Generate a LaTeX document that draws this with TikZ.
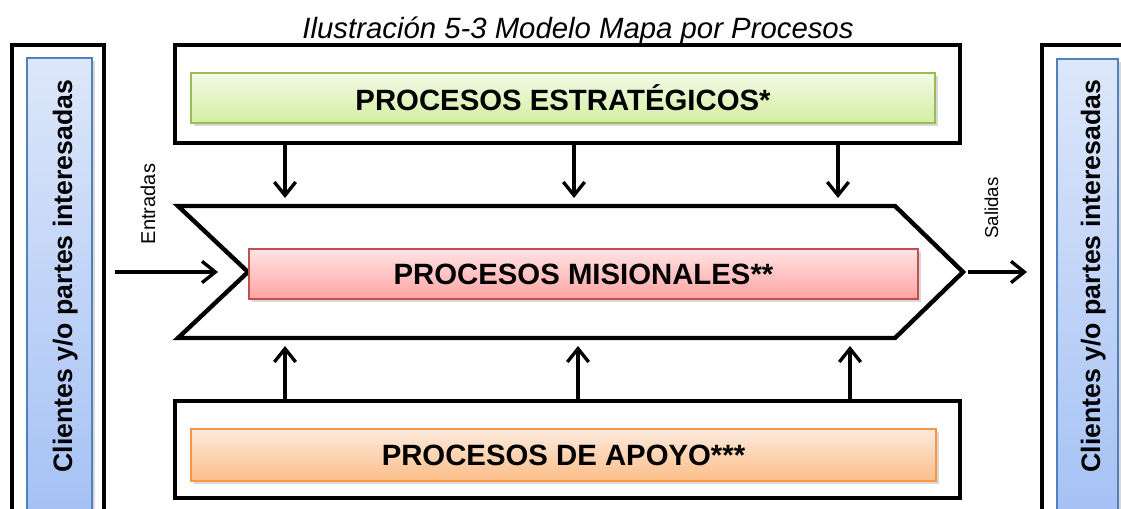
\documentclass[tikz,border=0pt]{standalone}
\usepackage{fontspec}
\setmainfont{Liberation Sans}
\usetikzlibrary{arrows.meta,shadows,positioning,calc}

\definecolor{verdeSup}{HTML}{F3FBE6}
\definecolor{verdeInf}{HTML}{D3EEA2}
\definecolor{verdeBorde}{HTML}{9BBB59}
\definecolor{rosaSup}{HTML}{FFE3E3}
\definecolor{rosaInf}{HTML}{FFA3A3}
\definecolor{rosaBorde}{HTML}{C0504D}
\definecolor{naranjaSup}{HTML}{FDEBDD}
\definecolor{naranjaInf}{HTML}{FBBD88}
\definecolor{naranjaBorde}{HTML}{F79646}
\definecolor{azulSup}{HTML}{DDE7FA}
\definecolor{azulInf}{HTML}{A3C0F4}
\definecolor{azulBorde}{HTML}{4F81BD}

\tikzset{
  marco/.style={draw=black, line width=3.3pt, fill=white, inner sep=0pt},
  proceso/.style={draw, line width=0.9pt, inner sep=0pt,
    drop shadow={shadow xshift=2pt, shadow yshift=-2.5pt, opacity=0.3},
    font=\fontsize{22}{26}\selectfont\bfseries},
  cliente/.style={draw=azulBorde, line width=0.9pt, top color=azulSup, bottom color=azulInf,
    drop shadow={shadow xshift=2pt, shadow yshift=-2.5pt, opacity=0.3}},
  flecha/.style={line width=2.5pt, -{Straight Barb[length=10pt,width=16pt]}},
  etiqueta/.style={rotate=90, anchor=base},
}

\begin{document}
\begin{tikzpicture}[x=0.75pt,y=-0.75pt]
  \clip (0,0) rectangle (1121,508);
  % titulo
  \node[anchor=base, font=\fontsize{22}{26}\selectfont\itshape] (titulo) at (578,38) {Ilustración 5-3 Modelo Mapa por Procesos};
  % clientes
  \node[marco, minimum width=69pt, minimum height=363.75pt] (cliIzqM) at (58,287.5) {};
  \node[cliente, minimum width=48.75pt, minimum height=354pt] (cliIzq) at (59.5,294) {};
  \node[rotate=90, anchor=base, font=\fontsize{20}{24}\selectfont\bfseries] (cliIzqT) at (72,276) {Clientes y/o partes interesadas};
  \node[marco, minimum width=73.5pt, minimum height=363.75pt] (cliDerM) at (1091,287.5) {};
  \node[cliente, minimum width=45.75pt, minimum height=354pt] (cliDer) at (1087.5,295) {};
  \node[rotate=90, anchor=base, font=\fontsize{20}{24}\selectfont\bfseries] (cliDerT) at (1100,276) {Clientes y/o partes interesadas};
  % estrategicos
  \node[marco, minimum width=588.75pt, minimum height=73.5pt] (estrM) at (567.5,94) {};
  \node[proceso, draw=verdeBorde, top color=verdeSup, bottom color=verdeInf,
        minimum width=558pt, minimum height=37.5pt] (estr) at (563,98) {PROCESOS ESTRATÉGICOS*};
  % misionales
  \draw[line width=3.3pt, fill=white, miter limit=10]
    (178,206) coordinate (ch1) -- (895,206) coordinate (ch2) -- (963,272) coordinate (punta)
    -- (895,338) coordinate (ch3) -- (178,338) coordinate (ch4) -- (248,272) coordinate (muesca) -- cycle;
  \node[proceso, draw=rosaBorde, top color=rosaSup, bottom color=rosaInf,
        minimum width=501.75pt, minimum height=37.5pt] (mis) at (583.5,274) {PROCESOS MISIONALES**};
  % apoyo
  \node[marco, minimum width=588.75pt, minimum height=72.75pt] (apoyM) at (567.5,449.5) {};
  \node[proceso, draw=naranjaBorde, top color=naranjaSup, bottom color=naranjaInf,
        minimum width=558.75pt, minimum height=39pt] (apoy) at (563.5,455) {PROCESOS DE APOYO***};
  % flechas
  \foreach \x/\n in {285/1,574/2,838/3}{
    \coordinate (b\n) at (\x,198);
    \draw[flecha] (estrM.south -| b\n) -- (b\n);
  }
  \foreach \x/\n in {285/1,578/2,850/3}{
    \coordinate (s\n) at (\x,346);
    \draw[flecha] (apoyM.north -| s\n) -- (s\n);
  }
  \coordinate (entIni) at (115,272);
  \coordinate (entFin) at (218,272);
  \draw[flecha] (entIni) -- (entFin);
  \coordinate (salIni) at (968,272);
  \coordinate (salFin) at (1027,272);
  \draw[flecha] (salIni) -- (salFin);
  \node[etiqueta, font=\fontsize{15}{18}\selectfont] (entL) at (155,204) {Entradas};
  \node[etiqueta, font=\fontsize{14}{17}\selectfont] (salL) at (998,208) {Salidas};
\end{tikzpicture}
\end{document}
